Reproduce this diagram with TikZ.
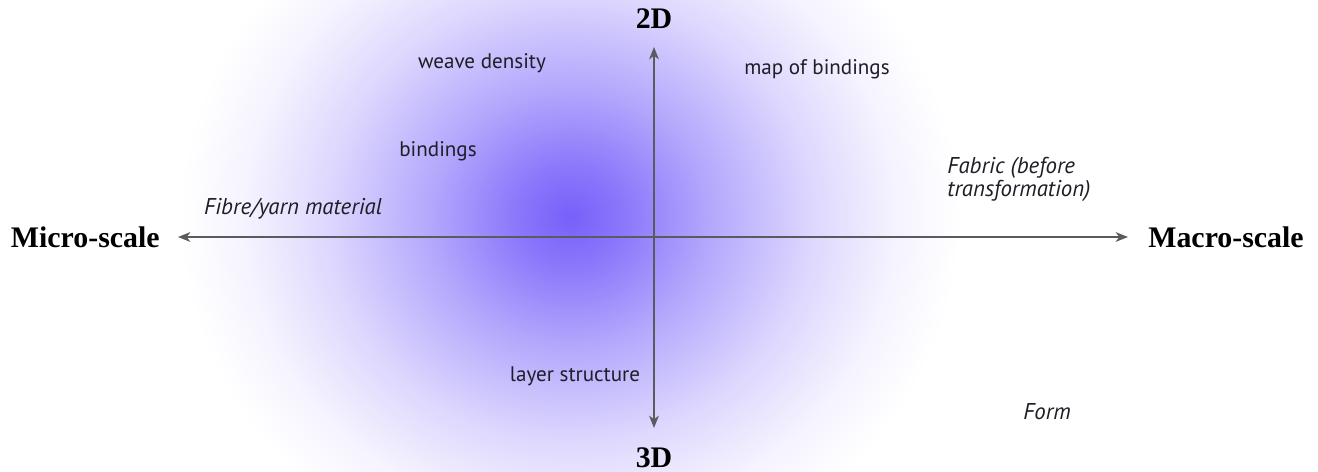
\documentclass[tikz,border=0pt]{standalone}
\usepackage{fontspec}
\setmainfont{Liberation Serif}
\setsansfont{PT Sans}
\usepackage{xcolor}
\usetikzlibrary{positioning, arrows.meta}
\definecolor{blobviolet}{RGB}{118, 96,  250}
\definecolor{axisgray}  {RGB}{90,  90,  95}
\definecolor{labelink}  {RGB}{30,  30,  38}
\pgfdeclareradialshading{blobshade}{\pgfpoint{0bp}{0bp}}{
  color(0bp)=(blobviolet);
  color(3.5bp)=(blobviolet!85!white);
  color(9bp)=(blobviolet!55!white);
  color(15.5bp)=(blobviolet!25!white);
  color(21bp)=(blobviolet!7!white);
  color(25bp)=(white);
  color(50bp)=(white)}
\tikzset{
  axisarrow/.style={
    {Stealth[length=7pt, width=5.5pt, inset=2pt]}-{Stealth[length=7pt, width=5.5pt, inset=2pt]},
    line width=1pt, color=axisgray
  },
  axislabel/.style={
    font=\rmfamily\bfseries\fontsize{17}{20}\selectfont,
    text=black, inner sep=0pt
  },
  quadlabel/.style={
    font=\sffamily\fontsize{12}{13}\selectfont,
    text=labelink, inner sep=0pt
  },
  quadnote/.style={
    quadlabel, font=\sffamily\itshape\fontsize{13}{13}\selectfont
  },
}

\begin{document}
\begin{tikzpicture}[x=0.02cm, y=0.02cm]
  \useasboundingbox (0,0) rectangle (1318,472);

  % Blob
  \shade[shading=blobshade] (570,255) ellipse [x radius=7.8cm, y radius=7.2cm];

  % Axis ends
  \coordinate (xmin) at (178,235);
  \coordinate (xmax) at (1128,235);
  \coordinate (ymin) at (654,44);
  \coordinate (ymax) at (654,425);

  % Axes
  \draw[axisarrow] (xmin) -- (xmax);
  \draw[axisarrow] (ymin) -- (ymax);

  % Axis labels
  \node[axislabel, left=0.36cm of xmin]  (micro) {Micro-scale};
  \node[axislabel, right=0.4cm of xmax]  (macro) {Macro-scale};
  \node[axislabel, above=0.36cm of ymax] (twod)  {2D};
  \node[axislabel, below=0.38cm of ymin] (threed) {3D};

  % Quadrant labels
  \node[quadlabel] (weave)   at (482,409) {weave density};
  \node[quadlabel] (map)     at (817,403) {map of bindings};
  \node[quadlabel] (bind)    at (438,321) {bindings};
  \node[quadlabel] (layer)   at (575,96)  {layer structure};
  \node[quadnote]  (fibre)   at (293,263) {Fibre/yarn material};
  \node[quadnote, anchor=west, align=left] (fabric) at (947,293)
        {Fabric (before\\transformation)};
  \node[quadnote]  (form)    at (1047,60) {Form};
\end{tikzpicture}
\end{document}
